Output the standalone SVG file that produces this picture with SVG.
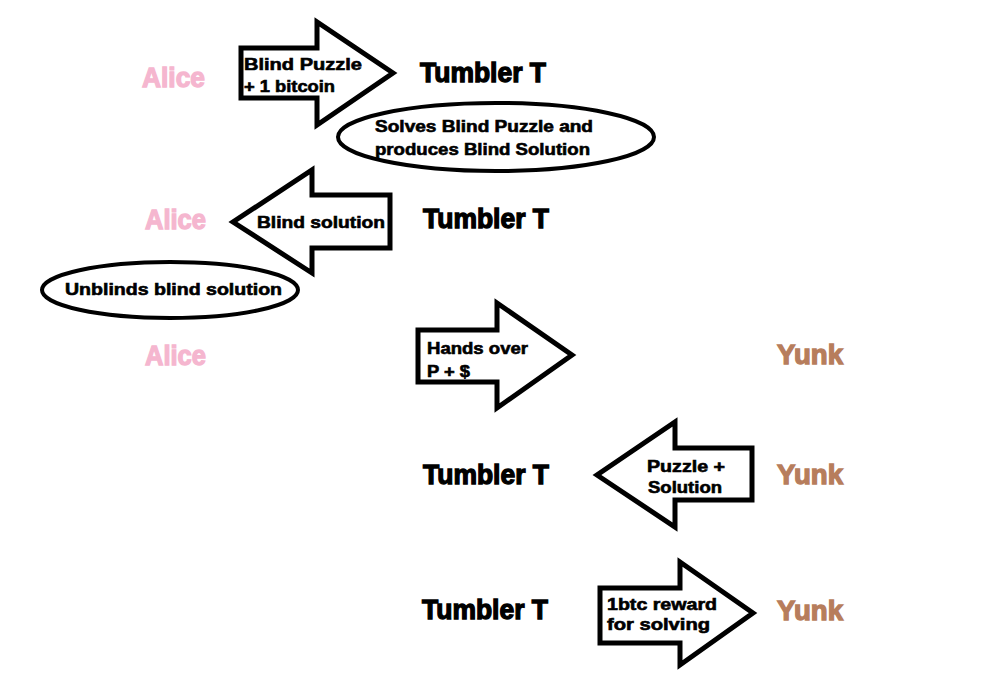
<svg xmlns="http://www.w3.org/2000/svg" width="997" height="699" viewBox="0 0 997 699">
<style>
.arrow{fill:#fff;stroke:#000;stroke-width:5;stroke-linejoin:miter;stroke-miterlimit:10}
.note{fill:#fff;stroke:#000;stroke-width:4}
.big{font-family:"Liberation Sans",Arial,sans-serif;font-weight:bold;font-size:27px;stroke-width:1.3}
.alice{fill:#f5b6cf;stroke:#f5b6cf}
.yunk{fill:#b77d5c;stroke:#b77d5c}
.tum{fill:#000;stroke:#000}
.lbl{font-family:"Liberation Sans",Arial,sans-serif;font-weight:bold;font-size:16px;fill:#000;stroke:#000;stroke-width:0.6}
</style>
<rect width="997" height="699" fill="#fff"/>
<g id="connectors">
  <g id="arrow1">
    <path class="arrow" d="M241,48 L317,48 L317,22 L393,73 L317,125 L317,98 L241,98 Z"/>
    <text class="lbl" x="244" y="70" textLength="118" lengthAdjust="spacingAndGlyphs">Blind Puzzle</text>
    <text class="lbl" x="244" y="92" textLength="91" lengthAdjust="spacingAndGlyphs">+ 1 bitcoin</text>
  </g>
  <g id="arrow2">
    <path class="arrow" d="M390,195 L312,195 L312,170 L233,222 L312,273 L312,248 L390,248 Z"/>
    <text class="lbl" x="257" y="228" textLength="128" lengthAdjust="spacingAndGlyphs">Blind solution</text>
  </g>
  <g id="arrow3">
    <path class="arrow" d="M418,330 L497,330 L497,303 L572,355 L497,408 L497,382 L418,382 Z"/>
    <text class="lbl" x="427" y="354" textLength="101" lengthAdjust="spacingAndGlyphs">Hands over</text>
    <text class="lbl" x="427" y="377" textLength="43" lengthAdjust="spacingAndGlyphs">P + $</text>
  </g>
  <g id="arrow4">
    <path class="arrow" d="M752,448 L675,448 L675,422 L597,475 L675,527 L675,500 L752,500 Z"/>
    <text class="lbl" x="647" y="472" textLength="78" lengthAdjust="spacingAndGlyphs">Puzzle +</text>
    <text class="lbl" x="648" y="493" textLength="74" lengthAdjust="spacingAndGlyphs">Solution</text>
  </g>
  <g id="arrow5">
    <path class="arrow" d="M600,588 L680,588 L680,562 L753,613 L680,665 L680,643 L600,643 Z"/>
    <text class="lbl" x="607" y="610" textLength="110" lengthAdjust="spacingAndGlyphs">1btc reward</text>
    <text class="lbl" x="607" y="630" textLength="103" lengthAdjust="spacingAndGlyphs">for solving</text>
  </g>
</g>
<g id="note1">
  <ellipse class="note" cx="496" cy="137" rx="158" ry="34"/>
  <text class="lbl" x="375" y="132" textLength="218" lengthAdjust="spacingAndGlyphs">Solves Blind Puzzle and</text>
  <text class="lbl" x="375" y="155" textLength="215" lengthAdjust="spacingAndGlyphs">produces Blind Solution</text>
</g>
<g id="note2">
  <ellipse class="note" cx="170" cy="290" rx="128" ry="28"/>
  <text class="lbl" x="65" y="295" textLength="217" lengthAdjust="spacingAndGlyphs">Unblinds blind solution</text>
</g>
<g id="alice1"><text class="big alice" x="142" y="87" textLength="63" lengthAdjust="spacingAndGlyphs">Alice</text></g>
<g id="tumbler1"><text class="big tum" x="420" y="82" textLength="126" lengthAdjust="spacingAndGlyphs">Tumbler T</text></g>
<g id="alice2"><text class="big alice" x="145" y="229" textLength="61" lengthAdjust="spacingAndGlyphs">Alice</text></g>
<g id="tumbler2"><text class="big tum" x="423" y="228" textLength="126" lengthAdjust="spacingAndGlyphs">Tumbler T</text></g>
<g id="alice3"><text class="big alice" x="145" y="365" textLength="61" lengthAdjust="spacingAndGlyphs">Alice</text></g>
<g id="yunk1"><text class="big yunk" x="777" y="364" textLength="66" lengthAdjust="spacingAndGlyphs">Yunk</text></g>
<g id="tumbler3"><text class="big tum" x="423" y="484" textLength="126" lengthAdjust="spacingAndGlyphs">Tumbler T</text></g>
<g id="yunk2"><text class="big yunk" x="777" y="484" textLength="66" lengthAdjust="spacingAndGlyphs">Yunk</text></g>
<g id="tumbler4"><text class="big tum" x="422" y="619" textLength="126" lengthAdjust="spacingAndGlyphs">Tumbler T</text></g>
<g id="yunk3"><text class="big yunk" x="777" y="620" textLength="66" lengthAdjust="spacingAndGlyphs">Yunk</text></g>
</svg>
